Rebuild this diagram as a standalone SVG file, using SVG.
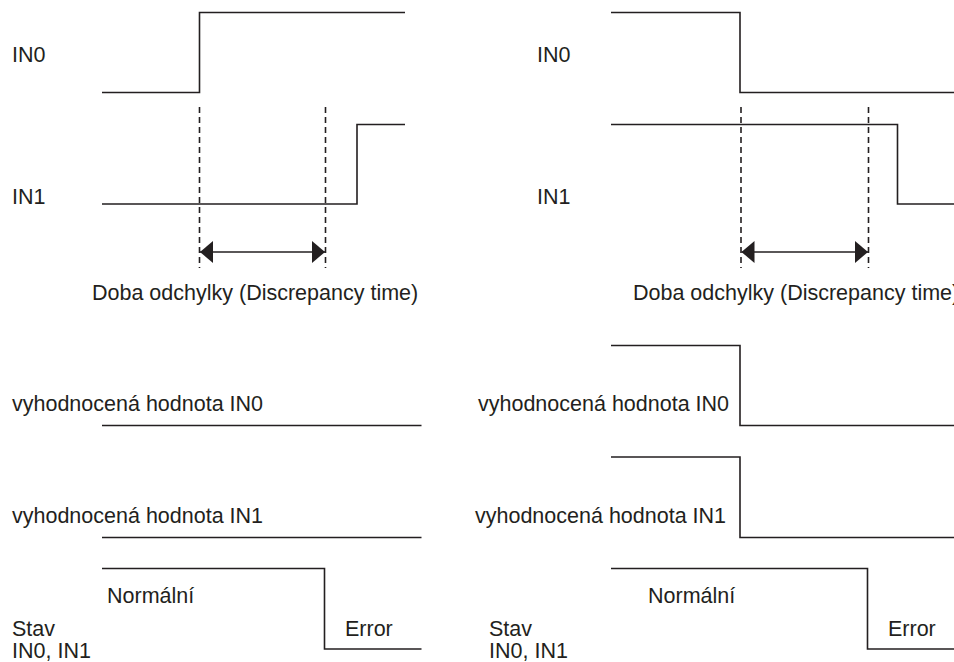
<svg xmlns="http://www.w3.org/2000/svg" width="954" height="662" viewBox="0 0 954 662">
<defs>
<style>
.sig{fill:none;stroke:#231f20;stroke-width:1.6;stroke-linejoin:miter}
.dash{fill:none;stroke:#231f20;stroke-width:1.6;stroke-dasharray:6 4}
.arr{fill:none;stroke:#231f20;stroke-width:1.5}
.t{font-family:"Liberation Sans",Arial,sans-serif;font-size:21.5px;fill:#231f20}
</style>
<marker id="ah" viewBox="0 0 13 22" refX="13" refY="11" markerWidth="13" markerHeight="22" markerUnits="userSpaceOnUse" orient="auto-start-reverse">
<path d="M0,0 L13,11 L0,22 Z" fill="#231f20"/>
</marker>
</defs>
<rect width="954" height="662" fill="#fff"/>

<g id="left">
<g id="l-in0"><text class="t" x="12" y="62">IN0</text><path class="sig" d="M102,92.5 H199.5 V12.5 H405"/></g>
<g id="l-in1"><text class="t" x="12" y="204">IN1</text><path class="sig" d="M102,204 H357 V124.5 H405"/></g>
<g id="l-disc">
<line class="dash" x1="199.5" y1="107" x2="199.5" y2="268"/>
<line class="dash" x1="325.5" y1="107" x2="325.5" y2="268"/>
<line class="arr" x1="200" y1="252" x2="325" y2="252" marker-start="url(#ah)" marker-end="url(#ah)"/>
<text class="t" x="92" y="300">Doba odchylky (Discrepancy time)</text>
</g>
<g id="l-ev0"><text class="t" x="12" y="411">vyhodnocená hodnota IN0</text><path class="sig" d="M102,425.5 H421.5"/></g>
<g id="l-ev1"><text class="t" x="12" y="523">vyhodnocená hodnota IN1</text><path class="sig" d="M102,537.5 H421.5"/></g>
<g id="l-stat">
<path class="sig" d="M102,568.5 H324.5 V649 H421.5"/>
<text class="t" x="107" y="603">Normální</text>
<text class="t" x="345" y="636">Error</text>
<text class="t" x="12" y="636">Stav</text>
<text class="t" x="12" y="658">IN0, IN1</text>
</g>
</g>

<g id="right">
<g id="r-in0"><text class="t" x="537" y="62">IN0</text><path class="sig" d="M611,12.5 H740 V92.5 H954"/></g>
<g id="r-in1"><text class="t" x="537" y="204">IN1</text><path class="sig" d="M611,124.5 H897.5 V204 H954"/></g>
<g id="r-disc">
<line class="dash" x1="741" y1="107" x2="741" y2="268"/>
<line class="dash" x1="868.5" y1="107" x2="868.5" y2="268"/>
<line class="arr" x1="741.5" y1="252" x2="868" y2="252" marker-start="url(#ah)" marker-end="url(#ah)"/>
<text class="t" x="633" y="300">Doba odchylky (Discrepancy time)</text>
</g>
<g id="r-ev0"><text class="t" x="478" y="411">vyhodnocená hodnota IN0</text><path class="sig" d="M611,345.5 H740 V425.5 H954"/></g>
<g id="r-ev1"><text class="t" x="475" y="523">vyhodnocená hodnota IN1</text><path class="sig" d="M611,457 H740 V537.5 H954"/></g>
<g id="r-stat">
<path class="sig" d="M611,568.5 H867.5 V649 H954"/>
<text class="t" x="648" y="603">Normální</text>
<text class="t" x="888" y="636">Error</text>
<text class="t" x="489" y="636">Stav</text>
<text class="t" x="489" y="658">IN0, IN1</text>
</g>
</g>
</svg>
